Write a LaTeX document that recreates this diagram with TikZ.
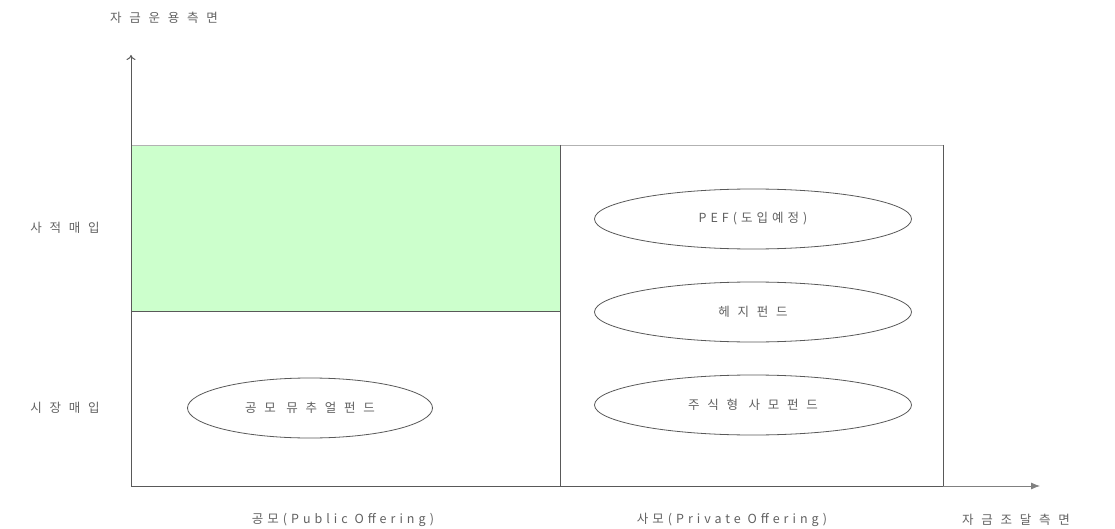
\documentclass[tikz,border=0pt]{standalone}
\usepackage{fontspec}
\newfontfamily\kr[LetterSpace=62]{Noto Sans CJK KR}
\newfontfamily\krl[LetterSpace=32]{Noto Sans CJK KR}
\usetikzlibrary{arrows.meta,shapes.geometric}
\begin{document}
\begin{tikzpicture}[x=1pt,y=-1pt,
  lbl/.style={font=\kr\fontsize{12.5}{14}\selectfont, text=black!62, inner sep=0pt},
  lbll/.style={font=\krl\fontsize{12.5}{14}\selectfont, text=black!62, inner sep=0pt},
  fund/.style={ellipse, draw=black!65, line width=0.8pt, fill=white, minimum width=#1, minimum height=60pt, inner sep=0pt, font=\kr\fontsize{12.5}{14}\selectfont, text=black!62},
  frame/.style={draw=black!65, line width=1pt}]
\useasboundingbox (0,0) rectangle (1115,529);
% green region
\fill[green!20!white] (131,145) rectangle (560,311);
\draw[draw=black!30, line width=0.8pt] (131,145) -- (943,145);
\draw[frame] (943,145) -- (943,486);
\draw[frame] (560,145) -- (560,486);
\draw[frame] (131,311) -- (560,311);
% axes
\coordinate (O) at (131,486);
\coordinate (ytip) at (131,55);
\coordinate (xend) at (943,486);
\coordinate (xtip) at (1040,486);
\draw[frame, -{To[length=5pt,width=9pt]}] (O) -- (ytip);
\draw[frame] (O) -- (xend);
\draw[draw=black!50, line width=0.8pt, -{Latex[length=9pt,width=7pt]}] (xend) -- (xtip);
% ellipses
\node[fund=245pt] (mut) at (310,408) {공모 뮤추얼펀드};
\node[fund=317pt, font=\krl\fontsize{12.5}{14}\selectfont] (pef) at (753,219) {PEF(도입예정)};
\node[fund=317pt] (hedge) at (753,312) {헤지펀드};
\node[fund=317pt] (stock) at (753,405) {주식형 사모펀드};
% labels
\node[lbl] (ytitle) at (164,18) {자금운용측면};
\node[lbl] (private) at (65,228) {사적매입};
\node[lbl] (market) at (65,408) {시장매입};
\node[lbll] (pub) at (343,520) {공모(Public Offering)};
\node[lbll] (priv) at (732,520) {사모(Private Offering)};
\node[lbl] (xtitle) at (1016,520) {자금조달측면};
\end{tikzpicture}
\end{document}
